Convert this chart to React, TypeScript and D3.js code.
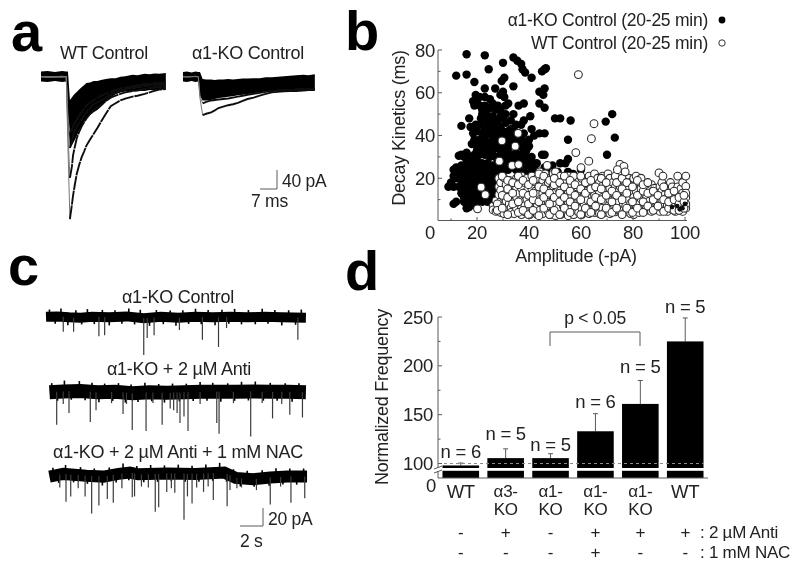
import React from 'react';
import * as d3 from 'd3';

// panel a: overlaid synaptic currents, time in ms, amplitude in pA (downward)
const wtTimes = [-10.7, -8, -5, -2, -0.3, 0.4, 1.2, 2, 2.5, 3.2, 4, 5, 6, 7, 8, 9.5, 11, 12.5, 14, 16, 18, 20, 22, 24, 27, 29, 32, 34, 36, 38, 40.7];
const wtTop = [-11, -12, -10, -12, -11, -11, 49, 44, 40, 36, 32, 27, 22, 18, 13, 12, 9, 9, 7, 5, 3, 3, 0, -1, -4, -3, -6, -5, -7, -6, -8];
const wtBottom = [10, 11, 9, 11, 10, 100, 150, 145, 140, 133, 125, 113, 105, 96, 90, 81, 75, 70, 63, 52, 44, 37, 33, 31, 31, 30, 30, 28, 29, 27, 27];
const wtLarge1 = [0, 1, 0, -1, 0, 150, 300, 270, 250, 228, 205, 186, 170, 158, 145, 132, 120, 108, 95, 78, 62, 56, 50, 46, 42, 40, 36, 33, 30, 27, 26];
const wtLarge2 = [0, 0, 1, 0, 0, 120, 213, 190, 165, 148, 130, 116, 105, 96, 88, 78, 70, 65, 60, 51, 44, 40, 36, 33, 30, 29, 26, 24, 23, 22, 21];
const wtLarge3 = [0, 0, 0, 1, 0, 100, 150, 138, 125, 115, 105, 97, 90, 82, 75, 66, 58, 54, 50, 44, 38, 34, 30, 27, 24, 22, 20, 18, 18, 17, 16];
const wtLarge4 = [0, 1, 0, 0, 0, 85, 118, 112, 105, 97, 90, 82, 75, 67, 60, 55, 50, 45, 40, 36, 32, 28, 25, 23, 20, 18, 16, 15, 14, 14, 12];

const koTimes = [-6.6, -5, -3, -1.5, -0.3, 0.4, 1.5, 3, 5, 6.5, 8, 10, 12, 14, 16, 18, 20, 22.5, 25, 27.5, 30, 32.5, 35, 37.5, 40, 43, 45, 47.7];
const koTop = [-10, -11, -9, -11, -10, -10, 5, 6, 6, 7, 6, 6, 5, 6, 5, 4, 4, 3, 3, 1, 1, 0, -1, -2, -3, -4, -3, -5];
const koBottom = [10, 11, 9, 11, 10, 40, 50, 50, 49, 47, 45, 44, 42, 41, 39, 38, 37, 35, 33, 31, 30, 30, 29, 30, 28, 29, 28, 28];
const koLarge1 = [0, 1, 0, -1, 0, 45, 81, 78, 75, 71, 66, 63, 60, 58, 55, 51, 47, 44, 40, 36, 33, 32, 31, 30, 30, 29, 28, 28];
const koLarge2 = [0, 0, 0, 0, 0, 40, 56, 53, 50, 49, 48, 47, 46, 44, 42, 40, 38, 36, 34, 32, 30, 29, 28, 28, 27, 27, 26, 26];

// panel b: amplitude (-pA), decay (ms)
const koPoints = [
  [16, 78], [23, 77.5], [30, 74], [34, 76.5], [35.5, 75], [37, 73.5], [37.5, 71], [38.5, 69.5], [24.5, 71], [12, 68],
  [16, 68.5], [41, 67], [30.5, 67], [29.5, 65.5], [19, 65], [45, 70], [46.5, 71.5], [46, 71], [23, 62], [27, 62],
  [30, 60.5], [34, 63], [46, 62], [44, 60.5], [45.5, 59], [29, 59], [30.5, 58], [19.5, 59], [21, 58], [23, 58],
  [25, 57], [18.5, 56], [19, 54], [22, 52], [25, 53], [28, 54], [31, 54], [32, 55], [36, 54], [38, 55],
  [44, 55], [46, 53], [40.5, 49], [34, 50], [33, 47], [31, 46], [29, 44], [35, 45], [37, 45], [41, 43],
  [44, 41], [46, 41], [42, 40], [50, 48], [52, 48], [56, 47], [17, 48], [14, 44.5], [55, 38], [69.5, 46.5],
  [72, 50], [73, 39], [70, 31], [45, 31], [46, 31], [55, 29], [54, 27], [52, 27], [49, 26], [47, 25],
  [55, 23], [57, 22], [55, 21], [40, 35], [41, 30], [38, 33], [36, 37], [35, 32], [33, 35], [31, 37],
  [30, 40], [28, 39], [27, 36], [26, 33], [22, 50], [24, 49], [23, 47], [25, 46], [21, 45], [20, 42],
  [23, 43], [25, 42], [27, 43], [19, 38], [21, 38], [23, 39], [26, 38], [20, 35], [22, 35], [24, 35],
  [26, 34], [28, 34], [19, 31], [21, 31], [23, 31], [25, 30], [27, 30], [29, 31], [20, 28], [22, 27],
  [24, 27], [26, 26], [28, 25], [18, 26], [16, 25], [14, 26], [12, 25], [20, 24], [22, 23], [24, 23],
  [26, 22], [28, 21], [17, 22], [15, 22], [13, 23], [11, 24], [19, 20], [21, 20], [23, 19], [25, 19],
  [27, 18], [16, 19], [14, 19], [12, 20], [10, 18], [9, 16], [11, 16], [13, 16], [15, 16], [17, 17],
  [19, 16], [21, 17], [23, 16], [25, 15], [27, 15], [14, 13], [16, 13], [18, 13], [20, 13], [22, 12],
  [24, 12], [26, 12], [12, 9], [11, 8], [17, 10], [19, 10], [22, 9], [24, 9], [16, 6], [17, 6.5],
  [19, 7.5], [14, 31], [15, 30], [13, 30.5], [16, 32], [28, 28], [30, 26], [32, 28], [34, 29],
  [36, 30], [38, 28], [40, 27], [42, 25], [44, 23], [30, 23], [32, 24], [34, 25], [36, 25], [38, 23],
  [40, 22], [29, 33], [31, 32], [33, 31], [35, 28], [37, 35], [39, 37], [34, 40], [36, 41], [32, 42],
  [30, 42], [38, 41], [28, 47], [30, 48], [26, 49], [27, 52], [29, 52], [31, 50], [38, 47], [40, 38],
  [47, 22], [49, 21], [51, 23], [53, 19], [42, 20], [45, 19], [60, 24], [50, 17], [58, 14], [66, 12],
  [73, 8], [84, 8], [96, 8], [98, 6], [100, 6], [100, 8], [98, 8], [95, 6], [92, 7], [88, 6],
  [72, 5], [60, 6], [50, 6], [42, 5], [36, 6], [33, 10], [30, 8], [40, 13], [44, 16], [55, 12],
  [62, 8], [75, 13], [78, 6], [82, 6],
  [17.5, 44], [18.5, 41], [19.5, 45], [21.5, 48], [24, 44.5], [26, 44], [22, 41], [24, 41], [18, 36], [17.5, 30],
  [20, 33], [22, 33], [24, 33], [18, 28], [26, 40.5], [28, 41], [27.5, 38], [25, 36.5], [22, 37], [18.5, 23],
  [20.5, 26], [23, 25], [25, 25], [27, 24], [29, 23], [24, 21], [22, 21], [26, 20], [20, 22], [18, 24],
  [16, 27], [13, 21], [15, 24], [11, 21], [18, 18], [20, 18], [22, 18],
  [24, 17.5], [26, 17], [28, 17], [16, 17], [14, 17], [18, 15], [20, 15], [22, 15], [24, 14],
  [26, 14], [28, 13], [16, 15], [17, 12], [19, 12], [21, 11], [23, 10.5],
  [25, 10], [27, 10], [15, 11], [18, 9], [20, 9], [15, 9], [26, 8], [29, 35],
  [30, 30], [32, 34], [33, 38], [34, 43], [35, 37], [37, 39], [39, 33], [41, 28], [43, 27], [37, 31],
  [39, 30], [31, 29], [33, 27], [35, 24], [37, 27], [39, 26], [41, 24], [43, 21], [45, 22], [46, 25],
  [30, 35], [32, 37], [31, 40], [33, 43], [27, 46], [29, 49], [24, 52], [23, 54], [26, 55], [21, 54],
  [20, 56],
];

const wtIsolated = [
  [59, 68.5], [65, 45.5], [64, 38.5], [58, 32], [63, 28], [60, 25], [47, 26], [75, 26.5], [76.5, 25.5], [74, 24],
  [77, 23], [90, 22.5], [91.5, 21], [29.6, 37.5], [34.7, 35], [35.8, 41], [28.6, 28], [33.5, 26], [36, 26.4], [21.6, 15.8],
  [23.2, 12.3], [20.2, 5.7],
];

const wtColumns: [number, number[]][] = [
  [26.2, [7, 5.2]], [27.3, [9.4, 4.5]], [28.4, [12.3, 6.1, 16, 20]], [29.1, [9, 4, 14.4, 18]], [30.3, [7.2, 11, 3.5, 20.3]],
  [31.2, [5.5, 13, 9.3, 17]], [32.4, [8, 3.5, 19, 12.4]], [33.1, [6.2, 15, 11, 4]], [34.3, [9, 13.3, 17, 3.5]], [35.2, [6, 11.4, 20, 15]],
  [36.3, [4, 8.2, 18, 13]], [37.1, [10, 3, 15.3, 21, 6]], [38.4, [7.2, 12, 18, 4.3]], [39.2, [5, 10.3, 14, 20]], [40.3, [3, 8, 17.2, 12]],
  [41.1, [6, 11.3, 21, 15]], [42.4, [4.2, 9, 14, 18.3]], [43.2, [7, 12.4, 3, 20]], [44.1, [5, 10, 16.3, 23]], [45.3, [8.2, 13, 3.5, 19]],
  [46.2, [6, 11, 16.2, 22]], [47.4, [4.3, 9, 14, 18]], [48.1, [7, 12.2, 20, 3]], [49.3, [5, 10, 16.4, 22]], [50.2, [8, 13.2, 2.5, 18, 23]],
  [51.4, [6.3, 11, 15, 20]], [52.1, [3, 9, 14.2, 21]], [53.2, [7, 12.3, 17, 4]], [54.4, [5.3, 10, 15, 19]], [55.1, [8, 13, 2.5, 21]],
  [56.3, [6, 11.4, 17, 4]], [57.2, [9.3, 14, 3, 19, 21]], [58.4, [5, 12, 8.2, 16]], [59.1, [7, 11, 18.3, 4]], [60.3, [3, 9.2, 14, 20, 6]],
  [61.2, [8, 12.3, 16, 4]], [62.4, [5.2, 10, 18, 14]], [63.1, [7, 3.5, 13.3, 21]], [64.3, [9, 5.3, 16, 11]], [65.2, [4, 12, 22, 18.2, 7]],
  [66.4, [6.2, 10, 15, 20]], [67.1, [3.5, 8, 13.2, 18]], [68.3, [6, 11, 16.3, 21]], [69.2, [4, 9.3, 14, 19]], [70.4, [7, 12.2, 5, 17, 22]],
  [71.1, [3.5, 10, 15.3, 20]], [72.3, [6, 8.2, 13, 18]], [73.2, [4.3, 11, 16, 21]], [74.4, [7, 14.2, 9, 5]], [75.1, [5, 12, 18.3, 16]],
  [76.3, [8.2, 10, 14, 19]], [77.2, [4.5, 7, 12.3, 17]], [78.4, [6, 10, 15.2, 20]], [79.1, [3.5, 8.3, 13, 18]], [80.3, [5, 11, 16.3, 20, 3]],
  [81.2, [7, 9.2, 14, 21]], [82.4, [4, 12, 18.2, 8]], [83.1, [6, 10.3, 15, 20]], [84.3, [4.5, 8, 13.2]], [85.2, [6.2, 11, 16]],
  [86.4, [5, 9.3, 14]], [87.1, [4.5, 7, 12.2, 17]], [88.3, [6, 10, 15.3]], [89.2, [5.2, 8, 13]], [90.4, [4.5, 11, 16.2, 9]],
  [91.1, [6, 9.2, 14, 18]], [92.3, [5, 8, 12.3, 16]], [93.2, [4.5, 7.2, 15, 11]], [94.4, [6, 10, 13.2, 18]], [95.1, [5.3, 8, 12, 16]],
  [96.3, [4.5, 7, 10.3, 14]], [97.2, [6, 9, 13.2, 21, 16]], [98.4, [5, 8.2, 11, 15]], [99.1, [4.5, 7, 10.2, 13, 18]], [100.3, [6, 8, 11, 16.2, 21, 13]],
];

const wtColumnsB: [number, number[]][] = [
  [27.8, [8, 5]], [29.7, [6, 12, 21]], [31.8, [3, 11, 19, 15]], [33.7, [8, 18, 13]], [35.9, [4, 9, 17, 21]],
  [37.7, [5, 13, 19]], [39.8, [3, 8, 12, 17]], [41.6, [5, 10, 19, 13]], [43.8, [2.5, 9, 16, 22]], [45.7, [6, 11, 21, 15]],
  [47.9, [3, 8, 13, 19]], [49.7, [5, 11, 17, 20]], [51.8, [3, 9, 13, 18]], [53.6, [6, 11, 16, 21]], [55.8, [4, 9, 14, 19]],
  [57.7, [7, 12, 17]], [59.9, [3, 10, 15, 21]], [61.7, [6, 13, 18]], [63.8, [4, 9, 15, 19]], [65.6, [7, 11, 16]],
  [67.8, [3, 10, 15, 20]], [69.7, [6, 12, 18]], [71.9, [4, 9, 14]], [73.7, [6, 12, 18]], [75.8, [3, 10, 15, 20]],
  [77.6, [6, 13, 18]], [79.8, [4, 9, 16]], [81.7, [6, 12, 19]], [83.9, [4, 9, 14, 17]], [85.7, [7, 13, 18]],
  [87.8, [5, 10, 14]], [89.6, [7, 12]], [91.8, [4.5, 10, 16]], [93.7, [6, 9, 13]], [95.8, [5, 10, 14]],
  [97.7, [5, 8, 11]], [99.6, [6, 9, 12]],
];

// KO events that read darkest through the open circles at the right edge
const koOnTop = [[97, 7], [99, 6], [100, 8], [98, 5.5], [95, 6.5]];

const ampTicks = [20, 40, 60, 80, 100];
const ampMinor = [10, 30, 50, 70, 90];
const decayTicks = [20, 40, 60, 80];
const decayMinor = [10, 30, 50, 70];

// panel c: event times (s) and depths (pA), baseline drift (pA), fringe of the noise band (pA)
const spikes1T = [1.5, 2.4, 4.6, 5.1, 8.5, 8.8, 9.4, 11.6, 13.6, 15.0, 15.7, 21.9];
const spikes1D = [16, 16, 21, 20, 42, 23, 20, 14, 25, 33, 12, 25];
const spikes2T = [0.93, 2.0, 3.85, 4.35, 6.7, 7.5, 8.7, 10.1, 10.8, 11.1, 11.4, 11.65, 12.0, 12.35, 14.85, 15.05, 17.8, 19.7, 21.2, 22.3, 1.5, 5.7, 7, 9.3, 13.4, 16.3, 18.8, 20.5];
const spikes2D = [36, 23, 33, 20, 24, 42, 43, 36, 18, 20, 23, 34, 27, 43, 34, 46, 49, 29, 25, 28, 13, 12, 13, 12, 13, 12, 12, 13];
const spikes3T = [1.74, 2.15, 3.4, 3.97, 4.6, 5.33, 5.85, 7.5, 7.7, 9.5, 9.8, 10.5, 11.2, 12, 12.3, 12.7, 13.7, 14.55, 15.75, 16, 18.3, 19.5, 21.3, 22.5, 1.2, 2.8, 6.6, 8.3, 8.9, 10.9, 13.1, 14.1, 17, 20.4, 16.6];
const spikes3D = [29, 23, 23, 42, 33, 26, 30, 24, 23, 40, 35, 18, 19, 49, 23, 31, 18, 27, 34, 16, 16, 32, 30, 25, 13, 14, 14, 12, 13, 14, 13, 12, 13, 12, 14];

const band1T = [0, 1, 2, 3, 4, 5.5, 7, 8.5, 10, 11.5, 13, 14.5, 16, 17.5, 19, 20.5, 22.6];
const band1V = [0.5, 1, 0, -0.5, 0.5, 0, 1, -1, 0.5, -0.5, 0.5, 0, 0.5, 0, 0.5, 0, -0.5];
const band2T = [0.3, 1.5, 3, 4.5, 6, 7.5, 9, 10.5, 12, 13.5, 15, 16.5, 18, 19.5, 21, 22.6];
const band2V = [0, 1, 1.5, 0, 0.5, -1, 0, -0.5, 0, 0.5, 0.5, 0.5, 1, 0.5, 0.5, 0];
const band3T = [0.3, 1.5, 3.5, 5, 6.3, 7.3, 8, 10.5, 13, 15.5, 16.5, 18, 19.5, 21, 22.7];
const band3V = [-1, 2, 0, -1, 2, 3.5, 1.5, 2.5, 2, 3.5, -2.5, -4, -2, -1, -1];

const fringe1 = [[0.3, 8], [0.8, -8], [1.3, 9], [1.9, -9], [2.6, 8], [3.1, -7.5], [3.6, 9], [4.2, -8], [4.9, 8], [5.5, -9], [6, 7.5], [6.6, -8], [7.2, 9], [7.7, -8], [8.2, 9], [9, -9], [9.6, 8], [10.2, -8], [10.8, 7.5], [11.3, -9], [11.9, 8], [12.4, -7.5], [13, 9], [13.5, -8], [14.1, 8], [14.7, -9], [15.3, 8], [15.9, -7.5], [16.4, 9], [17, -8], [17.6, 8], [18.2, -8], [18.8, 9], [19.3, -7.5], [19.9, 8], [20.5, -9], [21.1, 8], [21.7, -8], [22.2, 9]];
const fringe2 = [[0.5, 10], [1, -10], [1.6, 12], [2.2, -9.5], [2.9, 11], [3.4, -10], [4, 10], [4.6, -11], [5.1, 9.5], [5.8, -10], [6.3, 10], [6.9, -11], [7.4, 9.5], [8, -10], [8.6, 11], [9.2, -10], [9.8, 9.5], [10.3, -11], [11, 10], [11.6, -10], [12.2, 9.5], [12.8, -10], [13.4, 11], [14, -10], [14.5, 10], [15.2, -11], [15.8, 9.5], [16.4, -10], [17, 11], [17.6, -10], [18.2, 11], [18.9, -10], [19.5, 10], [20.1, -10], [20.8, 9.5], [21.4, -11], [22, 10]];
const fringe3 = [[0.6, 9], [1.1, -9], [1.7, 10], [2.4, -8.5], [3, 9], [3.6, -9], [4.2, 8.5], [4.9, -10], [5.5, 9], [6.1, -9], [6.7, 11], [7.2, -8.5], [7.9, 9], [8.5, -9], [9.1, 10], [9.7, -9], [10.3, 9], [10.9, -8.5], [11.5, 10], [12.1, -9], [12.7, 9], [13.3, -9], [13.9, 10], [14.5, -8.5], [15.1, 11], [15.7, -9], [16.3, 8.5], [16.9, -9], [17.5, 9], [18.1, -8.5], [18.8, 9], [19.4, -9], [20, 10], [20.6, -8.5], [21.2, 9], [21.8, -9], [22.4, 9]];

// panel d
const genotypes = [['WT'], ['α3-', 'KO'], ['α1-', 'KO'], ['α1-', 'KO'], ['α1-', 'KO'], ['WT']];
const freqMeans = [98, 105.5, 105.5, 133, 161, 225];
const freqErrors = [100.5, 115, 110, 151, 185, 249];
const nLabels = ['n = 6', 'n = 5', 'n = 5', 'n = 6', 'n = 5', 'n = 5'];
const antiRow = ['-', '+', '-', '+', '+', '+'];
const nacRow = ['-', '-', '-', '+', '-', '-'];
const freqTicks = [100, 150, 200, 250];
const freqMinor = [125, 175, 225];

const ink = '#222';
const axisGrey = '#5a5a5a';

const xA = d3.scaleLinear().domain([0, 7]).range([0, 17]);
const yA = d3.scaleLinear().domain([0, 40]).range([76.7, 95.7]);
const xWt = (t: number) => 67 + xA(t);
const xKo = (t: number) => 199 + xA(t);

const xB = d3.scaleLinear().domain([20, 100]).range([477, 685]);
const yB = d3.scaleLinear().domain([0, 80]).range([221, 50]);

const xC = d3.scaleLinear().domain([0, 2]).range([46, 69]);
const yC = d3.scaleLinear().domain([0, 20]).range([0, -18]);

const yD = d3.scaleLinear().domain([100, 250]).range([463.5, 317]);
const xD = d3.scaleBand<number>().domain(d3.range(6)).range([438, 708]).paddingInner(0.185).paddingOuter(0.1);

const envelope = (xf: (t: number) => number, times: number[], bottom: number[]) =>
  d3.area<number>().x((_, i) => xf(times[i])).y0((d) => yA(d)).y1((_, i) => yA(bottom[i]));

const Label = ({ x, y, size = 18, anchor = 'middle', children, ...rest }: any) => (
  <text x={x} y={y} dy=".36em" fontSize={size} textAnchor={anchor} fill={ink} letterSpacing={-0.25} {...rest}>
    {children}
  </text>
);

// one large event: thin grey fall to the peak, heavy decay after it
const BigEvent = ({ xf, times, values, peak, dash }: any) => {
  const line = d3.line<number>().x((d) => xf(times[d])).y((d) => yA(values[d]));
  const idx = d3.range(times.length);
  return (
    <g fill="none">
      <path d={line(idx.slice(0, peak + 1)) || ''} stroke="#777" strokeWidth={1} />
      <path d={line(idx.slice(peak)) || ''} stroke="#111" strokeWidth={1.9} strokeDasharray={dash} />
    </g>
  );
};

const Trace = ({ y, width, times, values, spikeT, spikeD, fringe }: any) => {
  const line = d3.line<number>().x((_, i) => xC(times[i])).y((d) => y + yC(d));
  const drift = d3.scaleLinear().domain(times).range(values);
  return (
    <g>
      <path d={line(values) || ''} fill="none" stroke="#000" strokeWidth={width} />
      {fringe.map(([t, v]: number[], i: number) => (
        <line key={i} x1={xC(t)} x2={xC(t)} y1={y + yC(drift(t))} y2={y + yC(drift(t) + v)} stroke="#000" strokeWidth={1.6} />
      ))}
      {spikeT.map((t: number, i: number) => (
        <line key={i} x1={xC(t)} x2={xC(t)} y1={y + yC(drift(t))} y2={y - yC(spikeD[i])} stroke="#3a3a3a" strokeWidth={1.2} />
      ))}
    </g>
  );
};

export default function App() {
  const wtPoints = [...wtColumns, ...wtColumnsB].flatMap(([a, ds]) => ds.map((d) => [a, d]));
  return (
    <svg
      width={800}
      height={566}
      viewBox="0 0 800 566"
      style={{ position: 'absolute', left: 0, top: 0, background: '#fff' }}
      fontFamily="'Liberation Sans', Arial, sans-serif"
    >
      <defs>
        <filter id="soft" x="0" y="0" width="100%" height="100%">
          <feGaussianBlur stdDeviation="0.45" />
        </filter>
      </defs>
      <g filter="url(#soft)">
        {/* panel letters */}
        <text x={11} y={51} fontSize={56} fontWeight="bold" fill="#000">a</text>
        <text x={345} y={50} fontSize={56} fontWeight="bold" fill="#000">b</text>
        <text x={8} y={285} fontSize={56} fontWeight="bold" fill="#000">c</text>
        <text x={345} y={290} fontSize={56} fontWeight="bold" fill="#000">d</text>

        {/* a */}
        <Label x={104} y={53}>WT Control</Label>
        <Label x={248} y={53}>α1-KO Control</Label>
        <path d={envelope(xWt, wtTimes, wtBottom)(wtTop) || ''} fill="#000" />
        {[wtLarge1, wtLarge2, wtLarge3, wtLarge4].map((tr, i) => (
          <BigEvent key={i} xf={xWt} times={wtTimes} values={tr} peak={6} dash="14 0.8" />
        ))}
        <path d={envelope(xKo, koTimes, koBottom)(koTop) || ''} fill="#000" />
        {[koLarge1, koLarge2].map((tr, i) => (
          <BigEvent key={i} xf={xKo} times={koTimes} values={tr} peak={6} />
        ))}
        <path d="M260,189H277V170" fill="none" stroke={axisGrey} strokeWidth={1} />
        <Label x={282} y={181} anchor="start" size={17.5}>40 pA</Label>
        <Label x={251} y={201} anchor="start" size={17.5}>7 ms</Label>

        {/* b */}
        <Label x={708} y={20} anchor="end" size={17.5}>α1-KO Control (20-25 min)</Label>
        <Label x={708} y={43} anchor="end" size={17.5}>WT Control (20-25 min)</Label>
        <circle cx={722} cy={20} r={3.4} fill="#000" />
        <circle cx={722} cy={43} r={3.2} fill="#fff" stroke="#333" strokeWidth={1} />
        {koPoints.map(([a, d], i) => (
          <circle key={i} cx={xB(a)} cy={yB(d)} r={4.2} fill="#000" />
        ))}
        {[...wtPoints, ...wtIsolated].map(([a, d], i) => (
          <circle key={i} cx={xB(a)} cy={yB(d)} r={3.9} fill="#fff" stroke="#2a2a2a" strokeWidth={1.05} />
        ))}
        {koOnTop.map(([a, d], i) => (
          <circle key={i} cx={xB(a)} cy={yB(d)} r={2.4} fill="#111" />
        ))}
        <path d={`M438,50V220.5H${xB(100) + 2}`} fill="none" stroke={axisGrey} strokeWidth={1} />
        {decayTicks.map((v) => (
          <g key={v}>
            <line x1={438} x2={442} y1={yB(v)} y2={yB(v)} stroke={axisGrey} />
            <Label x={435} y={yB(v)} anchor="end" size={18.5}>{v}</Label>
          </g>
        ))}
        {decayMinor.map((v) => (
          <line key={v} x1={438} x2={440.5} y1={yB(v)} y2={yB(v)} stroke={axisGrey} />
        ))}
        {ampTicks.map((v) => (
          <g key={v}>
            <line x1={xB(v)} x2={xB(v)} y1={220.5} y2={217} stroke={axisGrey} />
            <Label x={xB(v)} y={232} size={18.5}>{v}</Label>
          </g>
        ))}
        {ampMinor.map((v) => (
          <line key={v} x1={xB(v)} x2={xB(v)} y1={220.5} y2={218.5} stroke={axisGrey} />
        ))}
        <Label x={430} y={232} size={18.5}>0</Label>
        <Label x={576} y={256}>Amplitude (-pA)</Label>
        <Label x={399} y={128} transform="rotate(-90 399 128)">Decay Kinetics (ms)</Label>

        {/* c */}
        <Label x={178} y={297}>α1-KO Control</Label>
        <Trace y={317.3} width={10} times={band1T} values={band1V} spikeT={spikes1T} spikeD={spikes1D} fringe={fringe1} />
        <Label x={179} y={369}>α1-KO + 2 µM Anti</Label>
        <Trace y={392.3} width={14} times={band2T} values={band2V} spikeT={spikes2T} spikeD={spikes2D} fringe={fringe2} />
        <Label x={178} y={452}>α1-KO + 2 µM Anti + 1 mM NAC</Label>
        <Trace y={475.7} width={12} times={band3T} values={band3V} spikeT={spikes3T} spikeD={spikes3D} fringe={fringe3} />
        <path d="M240,526H263V508" fill="none" stroke={axisGrey} strokeWidth={1} />
        <Label x={268} y={519} anchor="start" size={17.5}>20 pA</Label>
        <Label x={240} y={541} anchor="start" size={17.5}>2 s</Label>

        {/* d */}
        {freqMeans.map((v, i) => {
          const x = xD(i) as number;
          const cx = x + xD.bandwidth() / 2;
          return (
            <g key={i}>
              <line x1={cx} x2={cx} y1={yD(v)} y2={yD(freqErrors[i])} stroke={axisGrey} strokeWidth={1} />
              <line x1={cx - 2.5} x2={cx + 2.5} y1={yD(freqErrors[i])} y2={yD(freqErrors[i])} stroke={axisGrey} strokeWidth={1} />
              <rect x={x} y={yD(v)} width={xD.bandwidth()} height={478 - yD(v)} fill="#000" />
              <Label x={cx} y={[451, 433, 444, 401, 366, 306][i]} size={18.5}>{nLabels[i]}</Label>
              {genotypes[i].map((s, k) => (
                <Label key={k} x={cx} y={491 + k * 18} size={k === 0 && s === 'WT' ? 18.5 : 17}>{s}</Label>
              ))}
              <Label x={cx} y={532} size={17}>{antiRow[i]}</Label>
              <Label x={cx} y={552} size={17}>{nacRow[i]}</Label>
            </g>
          );
        })}
        <line x1={438} x2={704} y1={yD(100)} y2={yD(100)} stroke="#8a8a8a" strokeWidth={1} strokeDasharray="3 3" />
        <rect x={430} y={468} width={278} height={2.8} fill="#fff" />
        <path d="M438,317V468M438,471V478H708" fill="none" stroke={axisGrey} strokeWidth={1} />
        <path d="M434,469L442,466M434,473L442,470" fill="none" stroke={axisGrey} strokeWidth={1} />
        {freqTicks.map((v) => (
          <g key={v}>
            <line x1={438} x2={442} y1={yD(v)} y2={yD(v)} stroke={axisGrey} />
            <Label x={433} y={yD(v)} anchor="end" size={18.5}>{v}</Label>
          </g>
        ))}
        {freqMinor.map((v) => (
          <line key={v} x1={438} x2={440.5} y1={yD(v)} y2={yD(v)} stroke={axisGrey} />
        ))}
        <Label x={431} y={485} size={18.5}>0</Label>
        <Label x={382} y={397} transform="rotate(-90 382 397)">Normalized Frequency</Label>
        <path d="M550,346V332H640V346" fill="none" stroke={axisGrey} strokeWidth={1} />
        <Label x={595} y={318} size={17.5}>p &lt; 0.05</Label>
        <Label x={700} y={532} anchor="start" size={17}>: 2 µM Anti</Label>
        <Label x={700} y={552} anchor="start" size={17}>: 1 mM NAC</Label>
      </g>
    </svg>
  );
}
